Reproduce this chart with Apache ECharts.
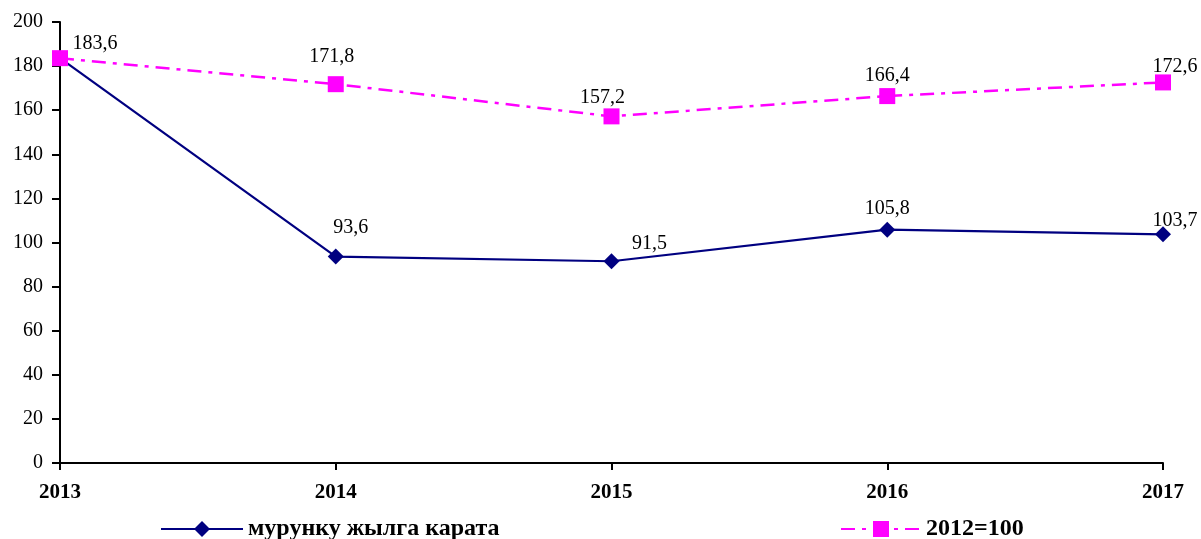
<!DOCTYPE html>
<html>
<head>
<meta charset="utf-8">
<script src="https://cdn.jsdelivr.net/npm/echarts@6/dist/echarts.min.js"></script>
<style>
html, body { margin: 0; padding: 0; background: #fff; }
#chart { width: 1201px; height: 539px; }
</style>
</head>
<body>
<div id="chart"></div>
<script>
var years = ['2013', '2014', '2015', '2016', '2017']
var prevYear = [183.6, 93.6, 91.5, 105.8, 103.7]
var base2012 = [183.6, 171.8, 157.2, 166.4, 172.6]
var yTicks = [0, 200, 20]

var seriesNames = ['мурунку жылга карата', '2012=100']

// label nudges per point, to sit like the original
var navyOffsets = [null, [15, -6], [38, 6], [0, 2], [12, 9]]
var pinkOffsets = [[35, 9], [-4, -4], [-9, 4], [0, 3], [12, 7]]

function fmt (v) {
  return String(v).replace('.', ',')
}

function buildData (vals, offs) {
  return vals.map(function (v, i) {
    var o = offs[i]
    if (!o) return { value: v, label: { show: false } }
    return { value: v, label: { offset: o } }
  })
}

var labelFont = {
  show: true,
  position: 'top',
  distance: 5,
  color: '#000',
  fontFamily: 'Liberation Serif',
  fontSize: 20,
  formatter: function (p) { return fmt(p.value) }
}

var legendText = { fontFamily: 'Liberation Serif', fontSize: 24, fontWeight: 'bold', color: '#000' }

var myChart = echarts.init(document.getElementById('chart'))
myChart.setOption({
  animation: false,
  backgroundColor: '#fff',
  grid: { left: 60, right: 38, top: 22, bottom: 76 },
  legend: [
    {
      data: [seriesNames[0]],
      left: 155, top: 512,
      itemWidth: 82, itemHeight: 20,
      textStyle: legendText
    },
    {
      data: [seriesNames[1]],
      left: 835, top: 512,
      itemWidth: 80, itemHeight: 20,
      textStyle: legendText
    }
  ],
  xAxis: {
    type: 'category',
    data: years,
    boundaryGap: false,
    axisLine: { lineStyle: { color: '#000', width: 2 } },
    axisTick: { show: true, length: 7, lineStyle: { color: '#000', width: 2 } },
    axisLabel: { margin: 19, color: '#000', fontFamily: 'Liberation Serif', fontSize: 21, fontWeight: 'bold' },
    splitLine: { show: false }
  },
  yAxis: {
    type: 'value',
    min: yTicks[0],
    max: yTicks[1],
    interval: yTicks[2],
    axisLine: { show: true, lineStyle: { color: '#000', width: 2 } },
    axisTick: { show: true, length: 8, lineStyle: { color: '#000', width: 2 } },
    axisLabel: { margin: 17, color: '#000', fontFamily: 'Liberation Serif', fontSize: 20 },
    splitLine: { show: false }
  },
  series: [
    {
      name: seriesNames[0],
      type: 'line',
      data: buildData(prevYear, navyOffsets),
      symbol: 'diamond',
      symbolSize: 16,
      lineStyle: { color: '#000080', width: 2.2 },
      itemStyle: { color: '#000080' },
      label: labelFont,
      z: 2
    },
    {
      name: seriesNames[1],
      type: 'line',
      data: buildData(base2012, pinkOffsets),
      symbol: 'rect',
      symbolSize: 16,
      lineStyle: { color: '#ff00ff', width: 2.5, type: [14, 7, 4, 7] },
      itemStyle: { color: '#ff00ff' },
      label: labelFont,
      z: 3
    }
  ]
})
</script>
</body>
</html>
